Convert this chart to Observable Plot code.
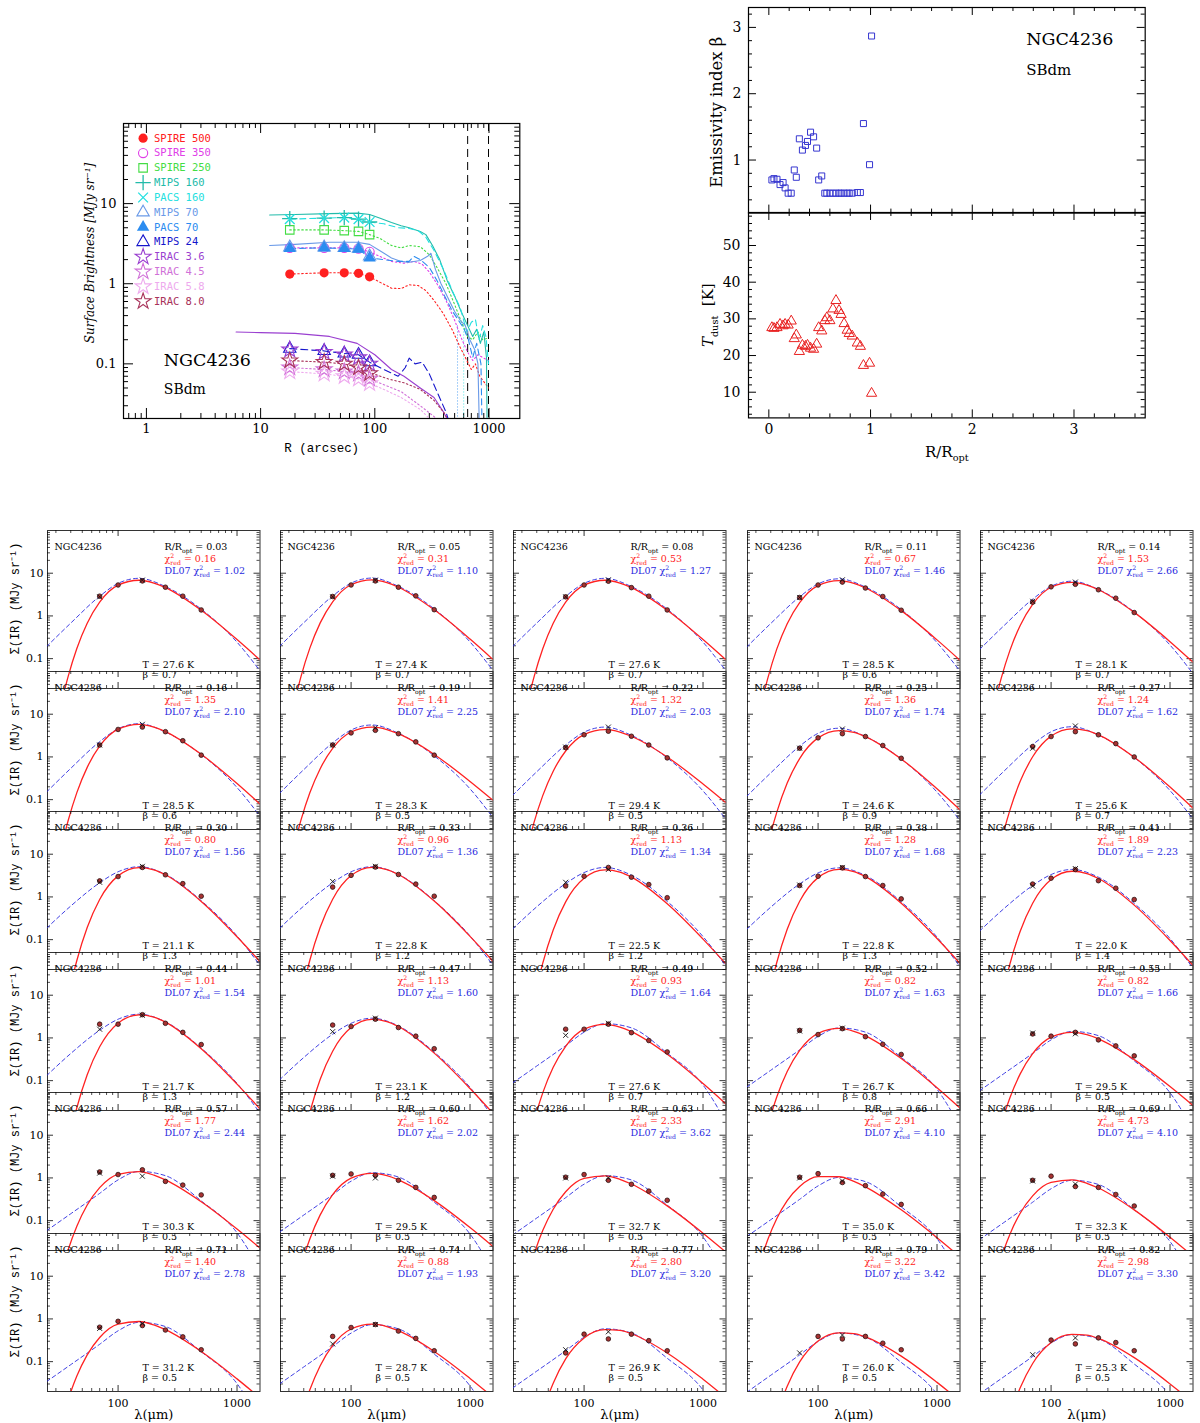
<!DOCTYPE html>
<html><head><meta charset="utf-8">
<script src="https://cdn.jsdelivr.net/npm/d3@7"></script>
<script src="https://cdn.jsdelivr.net/npm/@observablehq/plot@0.6"></script>
<style>
body{margin:0;background:#fff;}
#fig{position:relative;width:1200px;height:1423px;overflow:hidden;background:#fff;}
</style></head><body><div id="fig"></div>
<script>
// ---------------- DATA ----------------
const galaxy = "NGC4236";
const morph = "SBdm";

// radial profile (top-left)
const profR = [18, 36, 54, 72, 90];
const bandNames = ["SPIRE 500","SPIRE 350","SPIRE 250","MIPS 160","PACS 160","MIPS 70","PACS 70","MIPS 24","IRAC 3.6","IRAC 4.5","IRAC 5.8","IRAC 8.0"];
const bandPoints = [
  [1.32,1.37,1.37,1.35,1.22],
  [2.8,2.8,2.8,2.75,2.5],
  [4.7,4.7,4.6,4.5,4.1],
  [6.5,6.6,6.7,6.4,5.9],
  [6.4,6.6,6.7,6.4,5.9],
  [2.85,2.85,2.8,2.75,2.2],
  [2.75,2.8,2.75,2.7,2.1],
  [0.155,0.145,0.135,0.13,0.105],
  [0.15,0.14,0.13,0.12,0.1],
  [0.09,0.085,0.08,0.075,0.065],
  [0.08,0.075,0.07,0.065,0.057],
  [0.11,0.105,0.1,0.09,0.076]
];
const prof500 = [[18,1.32],[36,1.37],[54,1.37],[72,1.35],[90,1.22],[110,1.05],[140,0.88],[170,0.87],[200,0.97],[240,0.95],[280,0.82],[330,0.62],[400,0.42],[480,0.26],[560,0.16],[640,0.11],[700,0.085],[760,0.1],[830,0.07],[900,0.06],[990,0.05]];
const prof350 = [[18,2.8],[36,2.8],[54,2.8],[72,2.75],[90,2.5],[110,2.2],[140,1.9],[180,1.8],[220,1.9],[260,1.75],[300,1.4],[350,1.0],[420,0.62],[500,0.35],[580,0.2],[650,0.14],[720,0.11],[800,0.13],[880,0.12],[990,0.11]];
const prof250 = [[18,4.7],[36,4.7],[54,4.6],[72,4.5],[90,4.1],[110,3.7],[140,3.0],[170,2.8],[200,3.0],[250,2.9],[300,2.3],[350,1.6],[420,1.0],[500,0.55],[580,0.32],[650,0.22],[720,0.2],[800,0.25],[880,0.2],[990,0.21]];
const profM160 = [[12,7.2],[20,7.3],[40,7.5],[70,7.6],[90,7.3],[110,6.6],[140,5.8],[170,5.3],[200,5.0],[250,4.5],[280,4.1],[320,3.0],[370,2.0],[430,1.1],[500,0.7],[570,0.45],[650,0.3],[720,0.22],[780,0.27],[840,0.18],[900,0.25],[950,0.12],[980,0.001]];
const profP160 = [[18,6.4],[36,6.6],[54,6.7],[72,6.4],[90,5.9],[120,5.6],[160,5.0],[200,4.9],[240,4.6],[280,3.8],[330,2.6],[400,1.5],[480,0.8],[560,0.5],[640,0.25],[700,0.33],[760,0.36],[820,0.2],[880,0.3],[940,0.22],[990,0.1]];
const profM70 = [[12,3.0],[20,3.1],[40,3.3],[70,3.3],[90,3.1],[110,2.6],[140,2.1],[170,1.9],[200,1.85],[250,1.95],[290,2.2],[310,2.4],[340,1.5],[380,1.0],[430,0.7],[500,0.45],[560,0.35],[620,0.3],[680,0.2],[750,0.15],[800,0.1],[860,0.001]];
const profP70 = [[18,2.75],[36,2.8],[54,2.75],[72,2.7],[90,2.1],[120,2.0],[160,1.9],[200,1.9],[220,2.2],[250,2.0],[300,1.6],[350,1.1],[420,0.65],[480,0.45],[540,0.35],[600,0.28],[660,0.2],[720,0.12],[780,0.18],[850,0.1],[900,0.001]];
const profM24 = [[18,0.155],[36,0.145],[54,0.135],[72,0.13],[90,0.105],[120,0.085],[160,0.07],[185,0.09],[200,0.118],[225,0.1],[260,0.105],[300,0.075],[350,0.045],[420,0.025],[470,0.015]];
const profI36 = [[6.1,0.25],[10,0.245],[20,0.24],[40,0.22],[70,0.18],[100,0.13],[140,0.085],[180,0.07],[250,0.05],[330,0.038],[400,0.025],[450,0.018]];
const profI45 = [[18,0.09],[36,0.085],[54,0.08],[72,0.075],[90,0.065],[120,0.055],[170,0.045],[250,0.03],[330,0.022],[390,0.017]];
const profI58 = [[18,0.08],[36,0.075],[54,0.07],[72,0.065],[90,0.057],[120,0.048],[170,0.038],[250,0.027],[320,0.019]];
const profI80 = [[18,0.11],[36,0.105],[54,0.1],[72,0.09],[90,0.078],[130,0.065],[180,0.058],[250,0.048],[330,0.035],[400,0.025],[460,0.018]];
const bandProfiles = [prof500, prof350, prof250, profM160, profP160, profM70, profP70, profM24, profI36, profI45, profI58, profI80];
const apertureR = [650, 990];
const dropLines = [{R: 530, top: 0.3, bottom: 0.01}, {R: 600, top: 0.3, bottom: 0.01}];

// beta and Tdust vs R/Ropt (top-right)
const ratioR = [0.03,0.05,0.08,0.11,0.14,0.16,0.19,0.22,0.25,0.27,0.30,0.33,0.36,0.38,0.41,0.44,0.47,0.49,0.52,0.55,0.57,0.60,0.63,0.66,0.69,0.71,0.74,0.77,0.79,0.82,0.87,0.90,0.93,0.99,1.01];
const betaVals = [0.70,0.72,0.71,0.63,0.66,0.58,0.50,0.50,0.85,0.74,1.32,1.15,1.22,1.28,1.42,1.35,1.18,0.70,0.76,0.50,0.50,0.50,0.50,0.50,0.50,0.50,0.50,0.50,0.50,0.50,0.51,0.51,1.55,0.93,2.87];
const tdustVals = [27.6,27.4,27.6,28.5,28.1,28.5,28.3,29.4,24.6,25.6,21.1,22.8,22.5,22.8,22.0,21.7,23.1,27.6,26.7,29.5,30.3,29.5,32.7,35.0,32.3,31.2,28.7,26.9,26.0,25.3,23.4,22.5,17.3,17.9,9.7];

// SED panels (30)
const panelR = [0.03,0.05,0.08,0.11,0.14,0.16,0.19,0.22,0.25,0.27,0.30,0.33,0.36,0.38,0.41,0.44,0.47,0.49,0.52,0.55,0.57,0.60,0.63,0.66,0.69,0.71,0.74,0.77,0.79,0.82];
const panelChi = [0.16,0.31,0.53,0.67,1.53,1.35,1.41,1.32,1.36,1.24,0.80,0.96,1.13,1.28,1.89,1.01,1.13,0.93,0.82,0.82,1.77,1.62,2.33,2.91,4.73,1.40,0.88,2.80,3.22,2.98];
const panelChiDL = [1.02,1.10,1.27,1.46,2.66,2.10,2.25,2.03,1.74,1.62,1.56,1.36,1.34,1.68,2.23,1.54,1.60,1.64,1.63,1.66,2.44,2.02,3.62,4.10,4.10,2.78,1.93,3.20,3.42,3.30];
const panelT = [27.6,27.4,27.6,28.5,28.1,28.5,28.3,29.4,24.6,25.6,21.1,22.8,22.5,22.8,22.0,21.7,23.1,27.6,26.7,29.5,30.3,29.5,32.7,35.0,32.3,31.2,28.7,26.9,26.0,25.3];
const panelBeta = [0.7,0.7,0.7,0.6,0.7,0.6,0.5,0.5,0.9,0.7,1.3,1.2,1.2,1.3,1.4,1.3,1.2,0.7,0.8,0.5,0.5,0.5,0.5,0.5,0.5,0.5,0.5,0.5,0.5,0.5];
const bandLambda = [70,100,160,250,350,500];
const sedFlux = [
 [2.9,5.3,6.6,4.7,2.9,1.38],[2.85,5.3,6.6,4.7,2.95,1.4],[2.8,5.3,6.5,4.6,2.9,1.38],[2.7,5.3,6.2,4.5,2.85,1.36],[2.1,4.8,5.5,4.1,2.6,1.2],
 [1.9,4.4,5.0,3.9,2.4,1.1],[1.9,3.65,4.2,3.5,2.25,1.1],[1.65,3.3,4.0,3.05,1.9,0.95],[1.6,2.8,3.5,3.0,1.85,0.93],[1.75,3.0,3.9,3.3,2.05,1.0],
 [2.37,3.0,4.9,3.3,2.05,1.04],[1.7,3.2,5.0,3.35,2.0,1.04],[1.8,3.05,4.9,2.9,1.95,0.96],[1.85,3.05,4.8,3.0,1.85,0.9],[2.0,2.75,4.4,2.4,1.6,0.87],
 [2.1,2.1,3.5,2.2,1.35,0.7],[2.0,1.85,2.75,1.75,1.1,0.56],[1.6,1.6,2.1,1.33,0.87,0.47],[1.5,1.2,1.65,1.07,0.71,0.41],[1.24,1.1,1.35,0.9,0.65,0.38],
 [1.38,1.2,1.55,0.83,0.68,0.4],[1.15,1.24,1.15,0.88,0.6,0.35],[1.04,1.2,0.88,0.71,0.49,0.3],[1.04,1.26,0.78,0.66,0.42,0.24],[0.88,1.1,0.63,0.6,0.41,0.22],
 [0.64,0.88,0.7,0.55,0.38,0.19],[0.39,0.63,0.74,0.52,0.35,0.18],[0.16,0.44,0.34,0.44,0.31,0.18],[null,0.39,0.34,0.39,0.27,0.19],[null,0.32,0.26,0.36,0.28,0.18]
];
const mipsLambda = [70,160];
const mipsFlux = [
 [2.8,6.9],[2.8,6.9],[2.8,7.0],[2.7,7.0],[2.2,6.2],
 [1.9,5.8],[1.9,4.8],[1.7,5.0],[1.6,4.5],[1.6,5.3],
 [2.2,5.2],[2.3,5.2],[2.2,4.4],[1.9,4.9],[1.8,4.6],
 [1.6,3.4],[1.4,2.9],[1.15,2.2],[1.45,1.7],[1.3,1.25],
 [1.3,1.1],[1.1,1.0],[1.0,1.0],[1.0,0.85],[0.85,0.72],
 [0.6,0.78],[0.26,0.74],[0.19,0.5],[0.16,0.42],[0.145,0.36]
];
const mbbLambda = [32,38,45,55,70,100,150,200,250,500,1000,1550];
const mbbFlux = [
 [0.0055,0.038,0.173,0.673,2.10,5.26,6.85,5.89,4.6,1.36,0.28,0.095],
 [0.0056,0.039,0.176,0.687,2.14,5.37,7.0,6.02,4.7,1.39,0.287,0.097],
 [0.0055,0.038,0.173,0.673,2.10,5.26,6.85,5.89,4.6,1.36,0.28,0.095],
 [0.0054,0.037,0.169,0.658,2.05,5.14,6.70,5.76,4.5,1.33,0.275,0.093],
 [0.0049,0.034,0.154,0.60,1.87,4.69,6.10,5.25,4.1,1.21,0.25,0.084],
 [0.0046,0.032,0.146,0.57,1.78,4.46,5.81,5.0,3.9,1.15,0.238,0.080],
 [0.0054,0.034,0.145,0.531,1.58,3.83,4.98,4.375,3.5,1.143,0.267,0.098],
 [0.0047,0.0297,0.126,0.463,1.376,3.34,4.34,3.81,3.05,0.996,0.233,0.0856],
 [0.001,0.0092,0.051,0.244,0.917,2.79,4.14,3.76,3.0,0.896,0.179,0.0585],
 [0.0011,0.0101,0.056,0.268,1.008,3.07,4.55,4.13,3.3,0.985,0.197,0.064],
 [0.00038,0.0046,0.0325,0.192,0.872,3.11,4.87,4.31,3.3,0.786,0.117,0.0312],
 [0.00039,0.0047,0.033,0.195,0.885,3.16,4.94,4.38,3.35,0.798,0.119,0.0317],
 [0.00034,0.0041,0.0286,0.169,0.766,2.73,4.28,3.79,2.9,0.691,0.103,0.0274],
 [0.00035,0.0042,0.0296,0.175,0.793,2.83,4.43,3.92,3.0,0.715,0.106,0.0284],
 [0.00031,0.0038,0.0266,0.157,0.713,2.55,3.99,3.53,2.7,0.643,0.0956,0.0255],
 [0.00027,0.0033,0.0232,0.137,0.621,2.22,3.47,3.07,2.35,0.56,0.083,0.0222],
 [0.00021,0.0026,0.0182,0.108,0.489,1.744,2.73,2.42,1.85,0.441,0.0655,0.0175],
 [0.0017,0.0115,0.0525,0.205,0.638,1.6,2.08,1.79,1.4,0.413,0.0854,0.0288],
 [0.0013,0.0092,0.042,0.164,0.511,1.28,1.67,1.43,1.12,0.33,0.068,0.0231],
 [0.0015,0.0092,0.0392,0.144,0.428,1.04,1.35,1.19,0.95,0.31,0.0726,0.0266],
 [0.004,0.0206,0.074,0.232,0.592,1.217,1.40,1.162,0.9,0.277,0.0635,0.0231],
 [0.0014,0.0088,0.0372,0.1365,0.406,0.985,1.28,1.125,0.9,0.294,0.0688,0.0252],
 [0.0032,0.0165,0.0592,0.185,0.474,0.973,1.12,0.93,0.72,0.222,0.0508,0.0185],
 [0.0091,0.0378,0.1126,0.294,0.629,1.068,1.066,0.83,0.62,0.179,0.0399,0.0144],
 [0.0025,0.0133,0.0477,0.149,0.381,0.784,0.902,0.749,0.58,0.179,0.0409,0.0149],
 [0.0025,0.0128,0.046,0.144,0.368,0.757,0.871,0.723,0.56,0.173,0.0395,0.0144],
 [0.00082,0.0052,0.0219,0.0804,0.239,0.58,0.754,0.6625,0.53,0.173,0.0405,0.0149],
 [0.00015,0.0013,0.0068,0.0314,0.1165,0.359,0.561,0.537,0.45,0.16,0.0387,0.0144],
 [0.00013,0.0011,0.0057,0.0265,0.0983,0.303,0.474,0.453,0.38,0.135,0.0327,0.0122],
 [0.00012,0.001,0.0053,0.0244,0.0906,0.279,0.436,0.418,0.35,0.124,0.0301,0.0112]
];
const dlLambda = [25,40,70,100,150,250,500,1000,1550];
const dlFlux = [
 [0.19,0.68,2.89,5.78,7.6,4.86,1.44,0.243,0.053],
 [0.193,0.693,2.93,5.85,7.7,4.93,1.46,0.246,0.054],
 [0.19,0.68,2.89,5.78,7.6,4.86,1.44,0.243,0.053],
 [0.185,0.666,2.81,5.62,7.4,4.74,1.41,0.237,0.052],
 [0.163,0.585,2.47,4.94,6.5,4.16,1.235,0.208,0.0455],
 [0.15,0.54,2.28,4.56,6.0,3.84,1.14,0.192,0.042],
 [0.14,0.504,2.13,4.26,5.6,3.58,1.06,0.179,0.039],
 [0.125,0.45,1.9,3.8,5.0,3.2,0.95,0.16,0.035],
 [0.118,0.423,1.79,3.57,4.7,3.0,0.893,0.15,0.033],
 [0.128,0.459,1.94,3.88,5.1,3.26,0.969,0.163,0.036],
 [0.184,0.612,2.14,3.88,5.1,3.37,0.816,0.122,0.0255],
 [0.184,0.612,2.14,3.88,5.1,3.37,0.816,0.122,0.0255],
 [0.176,0.588,2.06,3.72,4.9,3.23,0.784,0.118,0.0245],
 [0.173,0.576,2.02,3.65,4.8,3.17,0.768,0.115,0.024],
 [0.158,0.528,1.85,3.34,4.4,2.9,0.704,0.106,0.022],
 [0.13,0.432,1.51,2.74,3.6,2.38,0.576,0.0864,0.018],
 [0.104,0.348,1.22,2.2,2.9,1.91,0.464,0.0696,0.0145],
 [0.088,0.22,0.66,1.36,2.16,1.72,0.44,0.079,0.011],
 [0.07,0.175,0.525,1.085,1.715,1.365,0.35,0.063,0.00875],
 [0.058,0.145,0.435,0.9,1.42,1.13,0.29,0.052,0.0073],
 [0.058,0.145,0.435,0.9,1.42,1.13,0.29,0.052,0.0073],
 [0.054,0.135,0.405,0.837,1.32,1.05,0.27,0.0486,0.0068],
 [0.046,0.115,0.345,0.713,1.127,0.897,0.23,0.0414,0.0058],
 [0.042,0.105,0.315,0.651,1.03,0.82,0.21,0.0378,0.0053],
 [0.036,0.09,0.27,0.558,0.882,0.702,0.18,0.0324,0.0045],
 [0.034,0.085,0.255,0.527,0.833,0.663,0.17,0.0306,0.0043],
 [0.03,0.075,0.225,0.465,0.735,0.585,0.15,0.027,0.0038],
 [0.024,0.06,0.18,0.372,0.588,0.468,0.12,0.0216,0.003],
 [0.019,0.048,0.144,0.298,0.47,0.374,0.096,0.0173,0.0024],
 [0.0176,0.044,0.132,0.273,0.431,0.343,0.088,0.0158,0.0022]
];

// tick labels
const profXTicks = [1,10,100,1000];
const profYTicks = [0.1,1,10];
const ratioXTicks = [0,1,2,3];
const betaYTicks = [1,2,3];
const tdustYTicks = [10,20,30,40,50];
const sedXTicks = [100,1000];
const sedYTicks = [0.1,1,10];

// ---------------- STYLE ----------------
const RED = "#ff2222", BLUE = "#2a2ae0";
const SERIF = "DejaVu Serif";
const bandColors = ["#ff2020","#e040e8","#44dd44","#22bbaa","#22e0e0","#6a9ae8","#2b8cf0","#1515cc","#9a3fd0","#d070d8","#eeaaee","#a8325a"];
const bandSymbols = ["circle","circle","square","plus","times","triangle","triangle","triangle","star","star","star","star"];
const bandFilled = [true,false,false,false,false,false,true,false,false,false,false,false];
const bandDash = ["1.5,2.5","1.5,2.5","1.5,2.5",null,"6,4",null,"6,4","7,4",null,"1.5,2.5","1.5,2.5","1.5,2.5"];
const bandR = [4.6,4.6,4.8,5,4.5,4.6,4.6,4.6,5,5,5,5];

const fig = document.getElementById("fig");

function logMinor(lo, hi) {
  const out = [];
  for (let k = -3; k <= 4; k++) for (let m = 2; m <= 9; m++) {
    const v = +(m * Math.pow(10, k)).toPrecision(3);
    if (v > lo && v < hi) out.push(v);
  }
  return out;
}
function linMinor(lo, hi, step, majorStep) {
  const out = [];
  for (let v = Math.ceil(lo / step) * step; v < hi; v += step) {
    const r = +v.toFixed(4);
    if (Math.abs(r / majorStep - Math.round(r / majorStep)) > 1e-6 && r > lo && r < hi) out.push(r);
  }
  return out;
}
function inwardTicks(xs, ys, W, H, len, sw = 0.8) {
  const o = {stroke: "#000", strokeWidth: sw};
  return [
    Plot.tickX(xs, {x: d => d, insetTop: H - len, ...o}),
    Plot.tickX(xs, {x: d => d, insetBottom: H - len, ...o}),
    Plot.tickY(ys, {y: d => d, insetRight: W - len, ...o}),
    Plot.tickY(ys, {y: d => d, insetLeft: W - len, ...o})
  ];
}
function place(svg) { fig.appendChild(svg); return svg; }
function label(str, anchor, dx, dy, opts = {}) {
  return Plot.text([str], {frameAnchor: anchor, dx, dy, lineAnchor: "middle",
    textAnchor: anchor.endsWith("left") && !opts.rotate ? "start" : "middle", ...opts});
}

// rich text: _{sub} ^{sup} ~{italic}
function richify(root) {
  d3.select(root).selectAll("text").each(function() {
    if (this.querySelector("tspan")) return;
    const t = this.textContent;
    if (!/[_^~]\{/.test(t)) return;
    const parts = []; const re = /([_^~])\{([^}]*)\}/g; let last = 0, m;
    while ((m = re.exec(t))) {
      if (m.index > last) parts.push({s: t.slice(last, m.index), k: ""});
      parts.push({s: m[2], k: m[1]}); last = re.lastIndex;
    }
    if (last < t.length) parts.push({s: t.slice(last), k: ""});
    const fs = parseFloat(getComputedStyle(this).fontSize) || 11;
    const el = d3.select(this); el.text(null);
    let off = 0;
    parts.forEach((p, i) => {
      const ts = el.append("tspan").text(p.s);
      const target = p.k === "^" ? -0.42 * fs : p.k === "_" ? 0.32 * fs : 0;
      if (Math.abs(target - off) > 1e-6) ts.attr("dy", target - off);
      off = target;
      if (p.k === "^" || p.k === "_") ts.attr("font-size", 0.65 * fs);
      if (p.k === "~") ts.attr("font-style", "italic");
      if (p.k === "_" && parts[i - 1] && parts[i - 1].k === "^") ts.attr("dx", -0.65 * fs * 0.62 * parts[i - 1].s.length);
    });
  });
}

// ---------------- TOP-LEFT: profiles ----------------
(function() {
  const L = 122.7, T = 123, W = 396.3, H = 295;
  const mL = 60, mR = 10, mT = 10, mB = 45;
  const xDom = [0.63, 1860], yDom = [0.0208, 100];
  const marks = [Plot.frame({stroke: "#000", strokeWidth: 1.2})];
  marks.push(...inwardTicks(profXTicks, profYTicks, W, H, 10, 1));
  marks.push(...inwardTicks(logMinor(xDom[0], xDom[1]), logMinor(yDom[0], yDom[1]), W, H, 5, 1));
  marks.push(Plot.ruleX(apertureR, {x: d => d, stroke: "#000", strokeWidth: 1, strokeDasharray: "8,5"}));
  marks.push(Plot.ruleX(dropLines, {x: "R", y1: "bottom", y2: "top", stroke: (d, i) => i === 0 ? "#2b8cf0" : "#22e0e0", strokeWidth: 0.8, strokeDasharray: "1,2", clip: true}));
  bandProfiles.forEach((prof, i) => {
    marks.push(Plot.line(prof, {x: d => d[0], y: d => d[1], stroke: bandColors[i], strokeWidth: 1.1, strokeDasharray: bandDash[i], clip: true}));
  });
  bandPoints.forEach((vals, i) => {
    const pts = profR.map((r, j) => ({r, v: vals[j]}));
    const filled = bandFilled[i];
    const strokeOnly = bandSymbols[i] === "plus" || bandSymbols[i] === "times";
    const sty = {symbol: bandSymbols[i], r: bandR[i], fill: filled ? bandColors[i] : "none", stroke: filled ? "none" : bandColors[i], strokeWidth: strokeOnly ? 1.3 : 1.1};
    marks.push(Plot.dot(pts, {x: "r", y: "v", ...sty}));
    marks.push(Plot.dot([0], {frameAnchor: "top-left", dx: 19.6, dy: 14.7 + i * 14.83, ...sty}));
    marks.push(label(bandNames[i], "top-left", 30.5, 14.7 + i * 14.83, {fill: bandColors[i], fontFamily: "DejaVu Sans Mono", fontSize: 10.5}));
  });
  marks.push(label(galaxy, "top-left", 40.3, 237, {fontSize: 17.5}));
  marks.push(label(morph, "top-left", 40.3, 266.3, {fontSize: 14}));
  marks.push(Plot.axisX({ticks: profXTicks, tickSize: 0, tickPadding: 5, tickFormat: d => String(d), label: null, fontSize: 13}));
  marks.push(Plot.axisY({ticks: profYTicks, tickSize: 0, tickPadding: 7, tickFormat: d => String(d), label: null, fontSize: 13}));
  marks.push(label("R (arcsec)", "bottom", 0, 30, {fontFamily: "Liberation Mono", fontSize: 12.5}));
  marks.push(label("Surface Brightness [MJy sr⁻¹]", "left", -33, -18, {rotate: -90, fontStyle: "italic", fontSize: 12}));
  place(Plot.plot({
    width: W + mL + mR, height: H + mT + mB, marginLeft: mL, marginRight: mR, marginTop: mT, marginBottom: mB,
    x: {type: "log", domain: xDom}, y: {type: "log", domain: yDom},
    style: {position: "absolute", left: (L - mL) + "px", top: (T - mT) + "px", background: "transparent", overflow: "visible", fontFamily: SERIF, fontSize: "13px", color: "#000"},
    marks
  }));
})();

// ---------------- TOP-RIGHT: beta and Tdust ----------------
(function() {
  const L = 748.3, W = 396.7;
  const xDom = [-0.2, 3.7];
  const xMinor = linMinor(xDom[0], xDom[1], 0.2, 1);
  {
    const T = 6.7, H = 205.6, mL = 60, mR = 10, mT = 6, mB = 6;
    const yDom = [0.2, 3.3];
    const pts = ratioR.map((r, i) => ({r, b: betaVals[i]}));
    place(Plot.plot({
      width: W + mL + mR, height: H + mT + mB, marginLeft: mL, marginRight: mR, marginTop: mT, marginBottom: mB,
      x: {domain: xDom, axis: null}, y: {domain: yDom},
      style: {position: "absolute", left: (L - mL) + "px", top: (T - mT) + "px", background: "transparent", overflow: "visible", fontFamily: SERIF, fontSize: "14px", color: "#000"},
      marks: [
        Plot.frame({stroke: "#000", strokeWidth: 1.2}),
        ...inwardTicks(ratioXTicks, betaYTicks, W, H, 8, 1),
        ...inwardTicks(xMinor, linMinor(yDom[0], yDom[1], 0.2, 1), W, H, 4, 1),
        Plot.dot(pts, {x: "r", y: "b", symbol: "square", r: 3.4, fill: "none", stroke: "#3535d0", strokeWidth: 1}),
        Plot.axisY({ticks: betaYTicks, tickSize: 0, tickPadding: 7, label: null, fontSize: 14, tickFormat: d => String(d)}),
        label("Emissivity index β", "left", -31.6, 2, {rotate: -90, fontSize: 16.5}),
        label(galaxy, "top-left", 277.7, 31.7, {fontSize: 17.5}),
        label(morph, "top-left", 277.7, 62.6, {fontSize: 15})
      ]
    }));
  }
  {
    const T = 212.3, H = 205.4, mL = 60, mR = 10, mT = 6, mB = 50;
    const yDom = [3, 59];
    const pts = ratioR.map((r, i) => ({r, t: tdustVals[i]}));
    place(Plot.plot({
      width: W + mL + mR, height: H + mT + mB, marginLeft: mL, marginRight: mR, marginTop: mT, marginBottom: mB,
      x: {domain: xDom}, y: {domain: yDom},
      style: {position: "absolute", left: (L - mL) + "px", top: (T - mT) + "px", background: "transparent", overflow: "visible", fontFamily: SERIF, fontSize: "14px", color: "#000"},
      marks: [
        Plot.frame({stroke: "#000", strokeWidth: 1.2}),
        ...inwardTicks(ratioXTicks, tdustYTicks, W, H, 8, 1),
        ...inwardTicks(xMinor, linMinor(yDom[0], yDom[1], 2, 10), W, H, 4, 1),
        Plot.dot(pts, {x: "r", y: "t", symbol: "triangle", r: 3.8, fill: "none", stroke: "#e82020", strokeWidth: 1}),
        Plot.axisY({ticks: tdustYTicks, tickSize: 0, tickPadding: 8, label: null, fontSize: 14, tickFormat: d => String(d)}),
        Plot.axisX({ticks: ratioXTicks, tickSize: 0, tickPadding: 6, label: null, fontSize: 14, tickFormat: d => String(d)}),
        label("~{T}_{dust}  [K]", "left", -40, 0, {rotate: -90, fontSize: 15}),
        label("R/R_{opt}", "bottom", 0, 34, {fontSize: 15})
      ]
    }));
  }
})();

// ---------------- BOTTOM: SED grid ----------------
(function() {
  const colX = [46.7, 280, 513.3, 746.7, 980];
  const row0 = 530, rowStep = 140.6;
  const W = 212.5, H = 158;
  const xDom = [25.5, 1560], yDom = [0.02, 100];
  const xMin = logMinor(xDom[0], xDom[1]), yMin = logMinor(yDom[0], yDom[1]);
  const sedYTitle = "Σ(IR) (MJy sr⁻¹)";
  const sedXTitle = "λ(μm)";
  for (let i = 0; i < 30; i++) {
    const r = Math.floor(i / 5), c = i % 5;
    const mL = 50, mR = 6, mT = 6, mB = 36;
    const pts = bandLambda.map((l, j) => ({l, v: sedFlux[i][j]})).filter(d => d.v != null);
    const crs = mipsLambda.map((l, j) => ({l, v: mipsFlux[i][j]}));
    const red = mbbLambda.map((l, j) => ({l, v: mbbFlux[i][j]}));
    const blue = dlLambda.map((l, j) => ({l, v: dlFlux[i][j]}));
    const fs = 9.5;
    const marks = [
      Plot.frame({stroke: "#333", strokeWidth: 1}),
      ...inwardTicks(sedXTicks, sedYTicks, W, H, 6, 0.8),
      ...inwardTicks(xMin, yMin, W, H, 3, 0.7),
      Plot.line(blue, {x: "l", y: "v", stroke: BLUE, strokeWidth: 0.9, strokeDasharray: "4,3", curve: "monotone-x", clip: true}),
      Plot.line(red, {x: "l", y: "v", stroke: RED, strokeWidth: 1.3, curve: "monotone-x", clip: true}),
      Plot.dot(pts, {x: "l", y: "v", r: 2.3, fill: "#a83232", stroke: "#2a1010", strokeWidth: 0.8}),
      Plot.dot(crs, {x: "l", y: "v", symbol: "times", r: 2.4, stroke: "#111", strokeWidth: 0.9}),
      label(galaxy, "top-left", 7, 16, {fontSize: fs}),
      label(`R/R_{opt} = ${panelR[i].toFixed(2)}`, "top-left", 117, 16, {fontSize: fs}),
      label(`χ^{2}_{red} = ${panelChi[i].toFixed(2)}`, "top-left", 117, 28, {fontSize: fs, fill: RED}),
      label(`DL07 χ^{2}_{red} = ${panelChiDL[i].toFixed(2)}`, "top-left", 117, 40, {fontSize: fs, fill: BLUE}),
      label(`T = ${panelT[i].toFixed(1)} K`, "top-left", 95, 134, {fontSize: fs}),
      label(`β = ${panelBeta[i].toFixed(1)}`, "top-left", 95, 144.5, {fontSize: fs})
    ];
    const xOpt = {type: "log", domain: xDom}, yOpt = {type: "log", domain: yDom};
    if (c === 0) {
      marks.push(Plot.axisY({ticks: sedYTicks, tickSize: 0, tickPadding: 4, label: null, fontSize: 11, tickFormat: d => String(d)}));
      marks.push(label(sedYTitle, "left", -32, -11, {rotate: -90, fontFamily: "Liberation Mono", fontSize: 12}));
    } else yOpt.axis = null;
    if (r === 5) {
      marks.push(Plot.axisX({ticks: sedXTicks, tickSize: 0, tickPadding: 8, label: null, fontSize: 11, tickFormat: d => String(d)}));
      marks.push(label(sedXTitle, "bottom", 0, 23, {fontSize: 13}));
    } else xOpt.axis = null;
    place(Plot.plot({
      width: W + mL + mR, height: H + mT + mB, marginLeft: mL, marginRight: mR, marginTop: mT, marginBottom: mB,
      x: xOpt, y: yOpt,
      style: {position: "absolute", left: (colX[c] - mL) + "px", top: (row0 + rowStep * r - mT) + "px", background: "transparent", overflow: "visible", fontFamily: SERIF, fontSize: "11px", color: "#000"},
      marks
    }));
  }
})();

richify(fig);
</script></body></html>
